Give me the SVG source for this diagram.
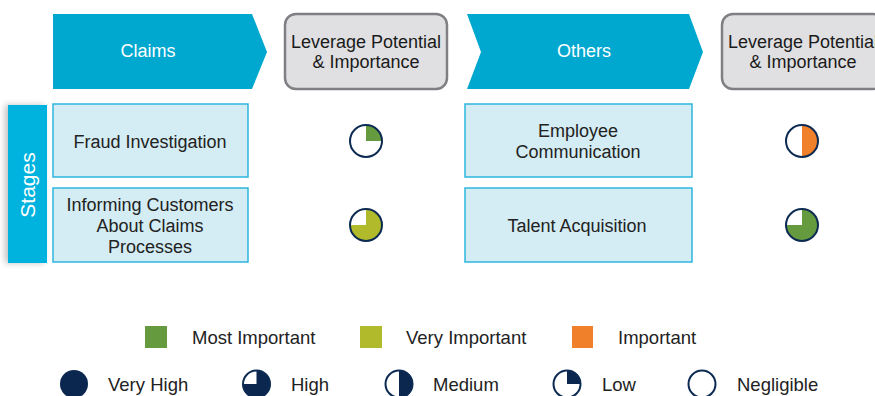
<svg xmlns="http://www.w3.org/2000/svg" width="875" height="396" viewBox="0 0 875 396">
<style>
text{font-family:"Liberation Sans",Arial,sans-serif;}
.hdr{fill:#00a8cf;}
.hdrt{fill:#ffffff;font-size:18px;text-anchor:middle;}
.lev{fill:#e0e0e2;stroke:#7f7f84;stroke-width:2.5;}
.levt{fill:#1a1a1a;font-size:18px;text-anchor:middle;}
.box{fill:#d4ecf3;stroke:#2cb6dd;stroke-width:1.5;}
.boxt{fill:#222222;font-size:18px;text-anchor:middle;}
.ring{fill:none;stroke:#0d2b52;stroke-width:2;}
.bg{fill:#ffffff;}
.leg{fill:#222222;font-size:18.5px;}
.navy{fill:#0b2750;}
</style>
<defs>
<filter id="sh" x="-50%" y="-10%" width="200%" height="120%">
<feGaussianBlur in="SourceAlpha" stdDeviation="3"/>
<feOffset dx="-3" dy="0"/>
<feComponentTransfer><feFuncA type="linear" slope="0.25"/></feComponentTransfer>
<feMerge><feMergeNode/><feMergeNode in="SourceGraphic"/></feMerge>
</filter>
</defs>

<g id="claims-header">
<polygon class="hdr" points="53,14 252,14 267,52 252,89 53,89"/>
<text class="hdrt" x="148" y="57">Claims</text>
</g>
<g id="leverage-1">
<rect class="lev" x="285" y="14" width="162" height="75" rx="11"/>
<text class="levt" x="366" y="48">Leverage Potential</text>
<text class="levt" x="366" y="68">&amp; Importance</text>
</g>
<g id="others-header">
<polygon class="hdr" points="467,14 689,14 703,52 689,89 467,89 481,52"/>
<text class="hdrt" x="584" y="57">Others</text>
</g>
<g id="leverage-2">
<rect class="lev" x="722" y="14" width="162" height="75" rx="11"/>
<text class="levt" x="803" y="48">Leverage Potential</text>
<text class="levt" x="803" y="68">&amp; Importance</text>
</g>

<g id="stages">
<rect x="8" y="105" width="39" height="158" fill="#00b2de" filter="url(#sh)"/>
<text x="0" y="0" transform="translate(35,185) rotate(-90)" fill="#ffffff" font-size="21" text-anchor="middle">Stages</text>
</g>

<g id="fraud-investigation">
<rect class="box" x="53" y="104" width="195" height="73"/>
<text class="boxt" x="150" y="148">Fraud Investigation</text>
</g>
<g id="informing-customers">
<rect class="box" x="53" y="188" width="195" height="74"/>
<text class="boxt" x="150" y="210.5">Informing Customers</text>
<text class="boxt" x="150" y="231.5">About Claims</text>
<text class="boxt" x="150" y="252.5">Processes</text>
</g>
<g id="employee-communication">
<rect class="box" x="465" y="104" width="227" height="73"/>
<text class="boxt" x="578" y="137">Employee</text>
<text class="boxt" x="578" y="158">Communication</text>
</g>
<g id="talent-acquisition">
<rect class="box" x="465" y="188" width="227" height="74"/>
<text class="boxt" x="577" y="231.5">Talent Acquisition</text>
</g>

<g id="pie-fraud">
<circle class="bg" cx="366" cy="141" r="16"/>
<path d="M366,141 L366,125 A16,16 0 0 1 382,141 Z" fill="#669a3f"/>
<circle class="ring" cx="366" cy="141" r="16"/>
</g>
<g id="pie-informing">
<circle class="bg" cx="366" cy="225" r="16"/>
<path d="M366,225 L366,209 A16,16 0 1 1 350,225 Z" fill="#b0ba2a"/>
<circle class="ring" cx="366" cy="225" r="16"/>
</g>
<g id="pie-employee">
<circle class="bg" cx="802" cy="141" r="16"/>
<path d="M802,125 A16,16 0 0 1 802,157 Z" fill="#f0802a"/>
<circle class="ring" cx="802" cy="141" r="16"/>
</g>
<g id="pie-talent">
<circle class="bg" cx="802" cy="225" r="16"/>
<path d="M802,225 L802,209 A16,16 0 1 1 786,225 Z" fill="#669a3f"/>
<circle class="ring" cx="802" cy="225" r="16"/>
</g>

<g id="legend-importance">
<rect x="145" y="326" width="22" height="22" fill="#669a3f"/>
<text class="leg" x="192" y="344">Most Important</text>
<rect x="360" y="326" width="22" height="22" fill="#b0ba2a"/>
<text class="leg" x="406" y="344">Very Important</text>
<rect x="572" y="326" width="21" height="22" fill="#f0802a"/>
<text class="leg" x="618" y="344">Important</text>
</g>

<g id="legend-leverage">
<circle class="navy" cx="74" cy="384" r="14"/>
<text class="leg" x="108" y="391">Very High</text>
<circle class="bg" cx="256.5" cy="384" r="14"/>
<path d="M256.5,384 L256.5,370 A14,14 0 1 1 242.5,384 Z" class="navy"/>
<circle class="ring" cx="256.5" cy="384" r="13.5"/>
<text class="leg" x="291" y="391">High</text>
<circle class="bg" cx="399" cy="384" r="14"/>
<path d="M399,370 A14,14 0 0 1 399,398 Z" class="navy"/>
<circle class="ring" cx="399" cy="384" r="13.5"/>
<text class="leg" x="433" y="391">Medium</text>
<circle class="bg" cx="567" cy="384" r="14"/>
<path d="M567,384 L567,370 A14,14 0 0 1 581,384 Z" class="navy"/>
<circle class="ring" cx="567" cy="384" r="13.5"/>
<text class="leg" x="602" y="391">Low</text>
<circle class="ring" cx="702" cy="384" r="13.5"/>
<text class="leg" x="737" y="391">Negligible</text>
</g>
</svg>
